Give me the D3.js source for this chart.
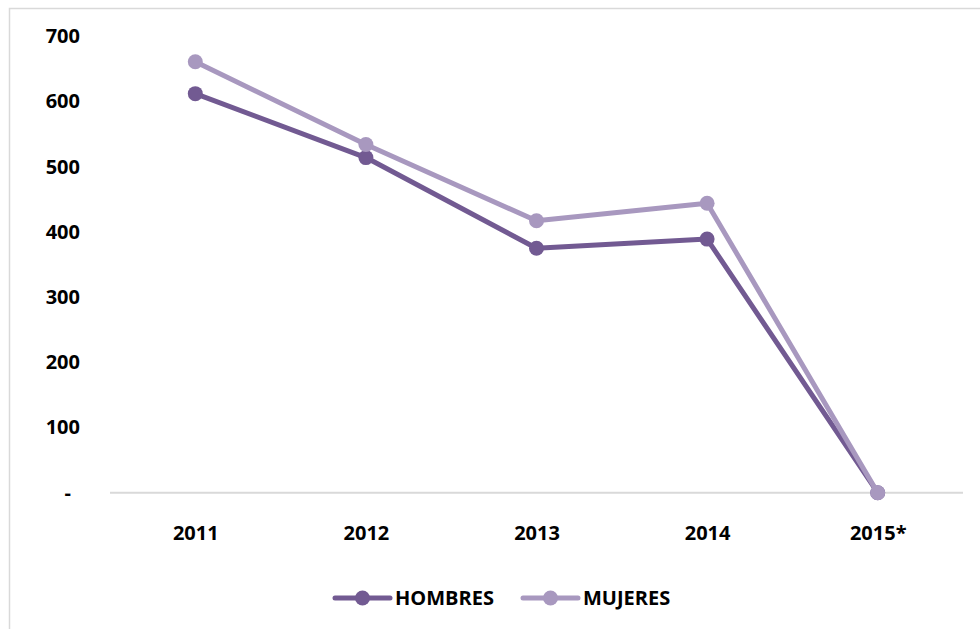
<!DOCTYPE html>
<html>
<head>
<meta charset="utf-8">
<script src="https://cdn.jsdelivr.net/npm/d3@7"></script>
<style>
  body { margin: 0; background: #fff; }
  text { font-family: "Open Sans", "Liberation Sans", sans-serif; font-weight: 700; fill: #000; }
</style>
</head>
<body>
<div id="chart"></div>
<script>
var years = ["2011", "2012", "2013", "2014", "2015*"];
var hombres = [612, 514, 375, 389, 0];
var mujeres = [661, 534, 417, 444, 0];
var yTicks = [0, 100, 200, 300, 400, 500, 600, 700];

var series = [
    { name: "HOMBRES", values: hombres, color: "#725a92" },
    { name: "MUJERES", values: mujeres, color: "#a898bf" }
];

var vWidth = 980;
var vHeight = 629;

var svg = d3.select("#chart")
    .append("svg")
        .attr("width", vWidth)
        .attr("height", vHeight);

// chart frame (Excel border)
svg.append("rect")
    .attr("x", 9.5)
    .attr("y", 8.5)
    .attr("width", vWidth + 10)
    .attr("height", vHeight + 10)
    .style("fill", "none")
    .style("stroke", "#d9d9d9")
    .style("stroke-width", 1.5);

var x = d3.scalePoint().domain(years).range([110, 963]).padding(0.5);
var y = d3.scaleLinear().domain([0, 700]).range([492.7, 36.3]);

// baseline
svg.append("line")
    .attr("x1", 110).attr("x2", 963)
    .attr("y1", y(0)).attr("y2", y(0))
    .style("stroke", "#d9d9d9")
    .style("stroke-width", 2);

// y labels
var yAxis = d3.axisLeft(y)
    .tickValues(yTicks)
    .tickSize(0)
    .tickPadding(0)
    .tickFormat(function (d) { return d === 0 ? "-" : d; });

var gy = svg.append("g")
    .attr("transform", "translate(80,0)")
    .call(yAxis);
gy.select(".domain").remove();
gy.selectAll("text")
    .style("font-size", "20px")
    .style("font-family", null)
    .attr("dx", function (d) { return d === 0 ? -9 : 0; });

// x labels
var xAxis = d3.axisBottom(x).tickSize(0).tickPadding(0);
var gx = svg.append("g")
    .attr("transform", "translate(0,528)")
    .call(xAxis);
gx.select(".domain").remove();
gx.selectAll("text")
    .style("font-size", "20px")
    .style("font-family", null)
    .attr("dy", "0.6em");

// lines + markers
var vLine = d3.line()
    .x(function (d, i) { return x(years[i]); })
    .y(function (d) { return y(d); });

series.forEach(function (s) {
    svg.append("path")
        .datum(s.values)
        .attr("d", vLine)
        .style("fill", "none")
        .style("stroke", s.color)
        .style("stroke-width", 5)
        .style("stroke-linejoin", "round");
    svg.selectAll(null)
        .data(s.values)
        .enter().append("circle")
            .attr("cx", function (d, i) { return x(years[i]); })
            .attr("cy", function (d) { return y(d); })
            .attr("r", 7.5)
            .style("fill", s.color);
});

// legend
var legendX = [335, 523];
var legend = svg.selectAll(".legend")
    .data(series)
    .enter().append("g")
        .attr("class", "legend")
        .attr("transform", function (d, i) { return "translate(" + legendX[i] + ",598)"; });

legend.append("line")
    .attr("x1", 0).attr("x2", 55)
    .style("stroke", function (d) { return d.color; })
    .style("stroke-width", 5)
    .style("stroke-linecap", "round");
legend.append("circle")
    .attr("cx", 27.5)
    .attr("r", 7.5)
    .style("fill", function (d) { return d.color; });
legend.append("text")
    .attr("x", 60)
    .attr("dy", "0.35em")
    .style("font-size", "20px")
    .text(function (d) { return d.name; });
</script>
</body>
</html>
